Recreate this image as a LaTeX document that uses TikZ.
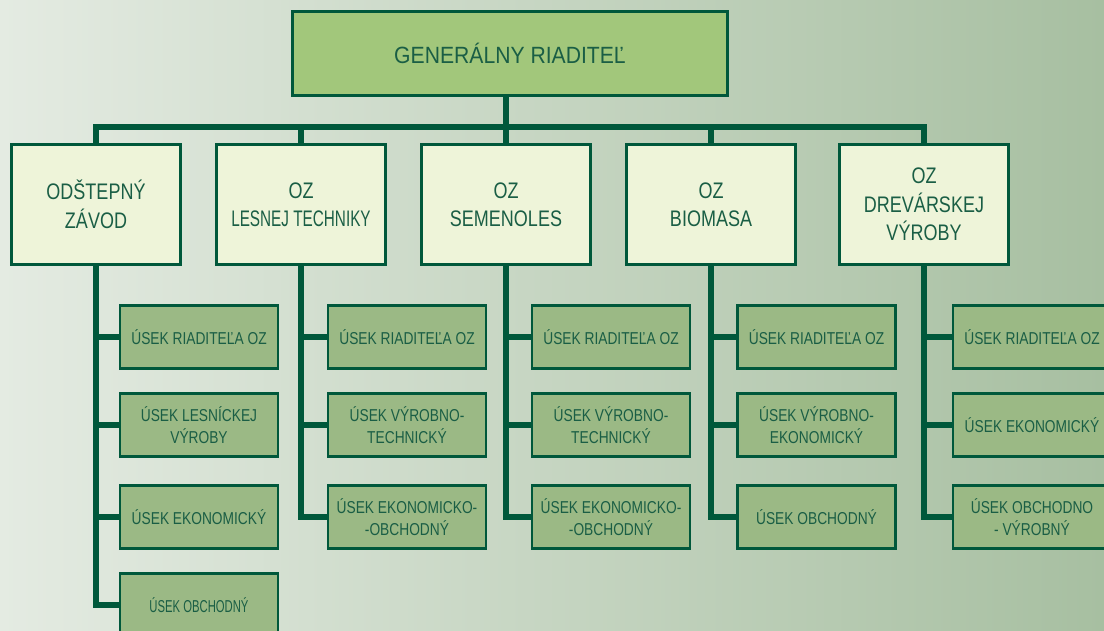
\documentclass[tikz,border=0pt]{standalone}
\usepackage{fontspec}
\setmainfont{Liberation Sans}[FakeStretch=0.8]
\newfontfamily\hlavnyfont{Liberation Sans}[FakeStretch=0.9]
\usetikzlibrary{positioning}

\definecolor{linka}{HTML}{00583B}
\definecolor{pismo}{HTML}{1A5E45}
\definecolor{grfill}{HTML}{A2C77B}
\definecolor{ozfill}{HTML}{EEF4D9}
\definecolor{usekfill}{HTML}{9BB985}
\definecolor{pozadie1}{HTML}{E4EBE2}
\definecolor{pozadie2}{HTML}{A7BFA1}

\begin{document}
\begin{tikzpicture}[x=1pt, y=-1pt, on grid,
    every node/.style={text=pismo, inner sep=0pt},
    box/.style={draw=linka, line width=2.5pt, align=center},
    hlavny/.style={box, fill=grfill, minimum width=435pt, minimum height=84pt,
        font=\hlavnyfont\fontsize{23.5}{28}\selectfont},
    oz/.style={box, fill=ozfill, minimum width=169pt, minimum height=120pt,
        font=\fontsize{22.5}{28.5}\selectfont},
    usek/.style={box, fill=usekfill, minimum width=158pt, minimum height=63pt,
        font=\fontsize{17.2}{22}\selectfont},
    spoj/.style={draw=linka, line width=6pt}]

    % pozadie
    \useasboundingbox (0,0) rectangle (1104,630);
    \clip (0,0) rectangle (1104,630);
    \shade[left color=pozadie1, right color=pozadie2] (0,0) rectangle (1104,630);

    \node[hlavny] (gr) at (510,53.5) {GENERÁLNY RIADITEĽ};

    \node[oz] (oz_1) at (96,204.5) {ODŠTEPNÝ\\ZÁVOD};
    \node[oz] (oz_2) [right=205pt of oz_1] {OZ\\\scalebox{0.85}[1]{LESNEJ TECHNIKY}};
    \node[oz] (oz_3) [right=205pt of oz_2] {OZ\\SEMENOLES};
    \node[oz] (oz_4) [right=205pt of oz_3] {OZ\\BIOMASA};
    \node[oz] (oz_5) [right=213pt of oz_4] {OZ\\DREVÁRSKEJ\\VÝROBY};

    \node[usek] (u_11) [below right=132.5pt and 103pt of oz_1] {ÚSEK RIADITEĽA OZ};
    \node[usek] (u_12) [below=88pt of u_11] {ÚSEK LESNÍCKEJ\\VÝROBY};
    \node[usek] (u_13) [below=92pt of u_12] {ÚSEK EKONOMICKÝ};
    \node[usek] (u_14) [below=88pt of u_13] {\scalebox{0.82}[1]{ÚSEK OBCHODNÝ}};

    \node[usek] (u_21) [below right=132.5pt and 106pt of oz_2] {ÚSEK RIADITEĽA OZ};
    \node[usek] (u_22) [below=88pt of u_21] {ÚSEK VÝROBNO-\\TECHNICKÝ};
    \node[usek] (u_23) [below=92pt of u_22] {ÚSEK EKONOMICKO-\\-OBCHODNÝ};

    \node[usek] (u_31) [below right=132.5pt and 105pt of oz_3] {ÚSEK RIADITEĽA OZ};
    \node[usek] (u_32) [below=88pt of u_31] {ÚSEK VÝROBNO-\\TECHNICKÝ};
    \node[usek] (u_33) [below=92pt of u_32] {ÚSEK EKONOMICKO-\\-OBCHODNÝ};

    \node[usek] (u_41) [below right=132.5pt and 105.5pt of oz_4] {ÚSEK RIADITEĽA OZ};
    \node[usek] (u_42) [below=88pt of u_41] {ÚSEK VÝROBNO-\\EKONOMICKÝ};
    \node[usek] (u_43) [below=92pt of u_42] {ÚSEK OBCHODNÝ};

    \node[usek] (u_51) [below right=132.5pt and 108pt of oz_5] {ÚSEK RIADITEĽA OZ};
    \node[usek] (u_52) [below=88pt of u_51] {ÚSEK EKONOMICKÝ};
    \node[usek] (u_53) [below=92pt of u_52] {ÚSEK OBCHODNO\\- VÝROBNÝ};

    % spoje
    \coordinate (lista) at (0,127);
    \draw[spoj] (gr.south -| oz_3) -- (oz_3.north);
    \draw[spoj] (oz_1.north) |- (lista -| oz_5) -- (oz_5.north);
    \foreach \k in {2,4}
        \draw[spoj] (oz_\k.north) -- (oz_\k |- lista);
    \foreach \k/\m in {1/4,2/3,3/3,4/3,5/3}
        \foreach \j in {1,...,\m}
            \draw[spoj] (oz_\k.south) |- (u_\k\j.west);

\end{tikzpicture}
\end{document}
